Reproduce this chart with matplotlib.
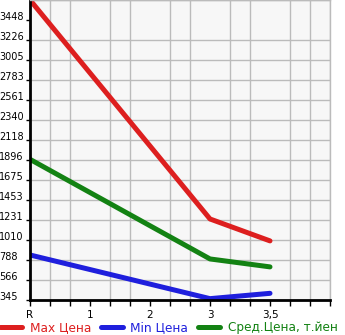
import numpy as np
import matplotlib
matplotlib.use("Agg")
import matplotlib.pyplot as plt

# x categories (evenly spaced on the axis)
x_labels = ["R", "1", "2", "3", "3,5"]
# data points sit on categories R, 3 and 3,5
pt_idx = [0, 3, 4]
max_price = [3670, 1243, 1000]
min_price = [844, 360, 419]
avg_price = [1904, 800, 712]
y_ticks = [345, 566, 788, 1010, 1231, 1453, 1675, 1896, 2118, 2340, 2561, 2783, 3005, 3226, 3448]

fig = plt.figure(figsize=(3.45, 3.35), dpi=100)
ax = fig.add_axes([30/345, 35/335, 300/345, 300/335])
ax.set_facecolor("#f7f7f7")

ax.plot(pt_idx, max_price, color="#dd1f1f", lw=3.6, solid_capstyle="round", label="Max Цена")
ax.plot(pt_idx, min_price, color="#1f1fdd", lw=3.6, solid_capstyle="round", label="Min Цена")
ax.plot(pt_idx, avg_price, color="#138213", lw=3.6, solid_capstyle="round", label="Сред.Цена, т.йен")

ax.set_xlim(0, 5)
ax.set_ylim(345, 345 + (3448 - 345) / 14 * 15)

ax.set_xticks(range(len(x_labels)))
ax.set_xticklabels(x_labels, fontsize=7.5)
ax.set_xticks(np.arange(0, 5.01, 1/3), minor=True)
ax.set_yticks(y_ticks)
ax.set_yticklabels([str(v) for v in y_ticks], fontsize=7)
ax.set_yticks(np.arange(345, 3700, (3448 - 345) / 14), minor=True)
for lab in ax.get_yticklabels():
    lab.set_horizontalalignment("left")
    lab.set_verticalalignment("baseline")
ax.tick_params(axis="y", which="major", length=3, width=1, pad=19.4)
ax.tick_params(axis="y", which="minor", length=0)
ax.tick_params(axis="x", which="both", length=4, width=1, pad=3)

ax.grid(True, which="minor", color="#bbbbbb", lw=1)
ax.grid(False, which="major")
ax.set_axisbelow(True)

for s in ["top", "right"]:
    ax.spines[s].set_color("#bbbbbb")
    ax.spines[s].set_linewidth(1)
for s in ["left", "bottom"]:
    ax.spines[s].set_color("black")
    ax.spines[s].set_linewidth(2)

leg = fig.legend(loc="lower left", bbox_to_anchor=(0, 1/335), ncol=3, fontsize=8.7,
                 frameon=False, borderpad=0, borderaxespad=0,
                 handlelength=1.8, handletextpad=0.66, columnspacing=0.8)
for t, l in zip(leg.get_texts(), leg.get_lines()):
    t.set_color(l.get_color())

fig.savefig("out.png", dpi=100)
